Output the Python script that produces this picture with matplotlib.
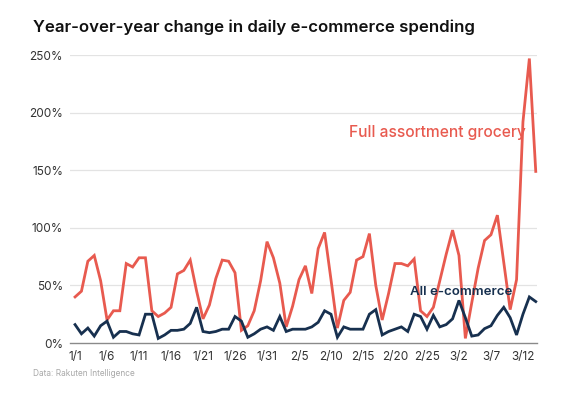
import matplotlib
matplotlib.use("Agg")
import matplotlib.pyplot as plt

# ---- data ----
tick_labels = ["1/1", "1/6", "1/11", "1/16", "1/21", "1/26", "1/31", "2/5",
               "2/10", "2/15", "2/20", "2/25", "3/2", "3/7", "3/12"]

grocery = [40, 45, 71, 76, 54, 20, 28, 28, 69, 66, 74, 74, 28, 23, 26,
           31, 60, 63, 72, 45, 21, 33, 56, 72, 71, 61, 11, 15, 28, 54,
           88, 74, 52, 14, 32, 55, 67, 43, 82, 96, 55, 13, 37, 44, 72,
           75, 95, 50, 20, 43, 69, 69, 67, 73, 28, 23, 31, 54, 77, 98,
           76, 4, 35, 65, 89, 94, 111, 70, 29, 55, 192, 247, 149]

ecommerce = [16, 8, 13, 6, 15, 19, 5, 10, 10, 8, 7, 25, 25, 4, 7,
             11, 11, 12, 17, 31, 10, 9, 10, 12, 12, 23, 19, 5, 8, 12,
             14, 11, 23, 10, 12, 12, 12, 14, 18, 28, 25, 5, 14, 12, 12,
             12, 25, 29, 7, 10, 12, 14, 10, 25, 23, 12, 24, 14, 16, 21,
             37, 22, 6, 7, 12.5, 15, 24, 31, 22, 7, 25, 40, 36]

y_ticks = [0, 50, 100, 150, 200, 250]

RED = "#E85A4F"
NAVY = "#17304F"
FONT = ["Inter", "DejaVu Sans"]
plt.rcParams["font.family"] = FONT

fig = plt.figure(figsize=(5.65, 3.95), dpi=100)
ax = fig.add_axes([0.124, 0.1316, 0.8265, 0.729])

x = list(range(len(grocery)))
ax.plot(x, grocery, color=RED, lw=2.0, solid_joinstyle="miter", clip_on=False, zorder=3)
ax.plot(x, ecommerce, color=NAVY, lw=2.0, solid_joinstyle="miter", clip_on=False, zorder=4)

ax.set_xlim(-0.78, 72.2)
ax.set_ylim(0, 250)
ax.set_yticks(y_ticks)
ax.set_yticklabels([f"{v}%" for v in y_ticks])
ax.set_xticks(list(range(0, 5 * len(tick_labels), 5)))
ax.set_xticklabels(tick_labels)

for v in y_ticks[1:]:
    ax.axhline(v, color="#e3e3e3", lw=0.9, zorder=1)

for s in ["top", "right", "left"]:
    ax.spines[s].set_visible(False)
ax.spines["bottom"].set_color("#8a8a8a")
ax.spines["bottom"].set_linewidth(1.0)
ax.tick_params(axis="both", length=0, labelsize=8.5, colors="#333333")
ax.tick_params(axis="x", pad=6)
ax.tick_params(axis="y", pad=5)
for lab in ax.get_yticklabels():
    lab.set_horizontalalignment("right")

ax.text(42.8, 183, "Full assortment grocery", color=RED, fontsize=11.2,
        fontweight="medium", ha="left", va="center")
ax.text(52.3, 44.5, "All e-commerce", color=NAVY, fontsize=9.5,
        fontweight="semibold", ha="left", va="center", zorder=5)

fig.text(33 / 565, 1 - 27 / 395, "Year-over-year change in daily e-commerce spending",
         fontsize=12.1, fontweight="semibold", color="#111111", ha="left", va="center")
fig.text(33 / 565, 1 - 373 / 395, "Data: Rakuten Intelligence", fontsize=6,
         color="#a8a8a8", ha="left", va="center")

fig.savefig("out.png", dpi=100)
